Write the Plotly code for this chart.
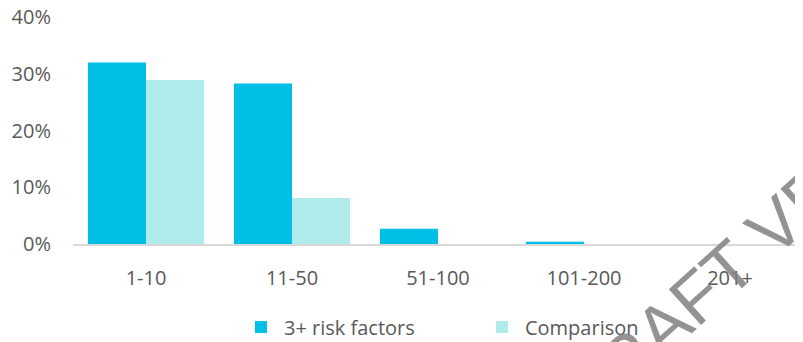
import plotly.graph_objects as go

categories = ["1-10", "11-50", "51-100", "101-200", "201+"]
risk_values = [0.32, 0.283, 0.027, 0.004, 0.0]
comparison_values = [0.289, 0.081, 0.0, 0.0, 0.0]
y_ticks = [0, 0.1, 0.2, 0.3, 0.4]
y_tick_labels = ["0%", "10%", "20%", "30%", "40%"]
series_names = ["3+ risk factors", "Comparison"]
watermark_text = "DRAFT VERSION"

BLUE = "#00BFE6"
LIGHT = "#AFEBEB"
TEXT = "#595959"
FONT = "Open Sans"

fig = go.Figure()
fig.add_trace(go.Bar(x=categories, y=risk_values, name=series_names[0],
                     marker=dict(color=BLUE, line=dict(width=0))))
fig.add_trace(go.Bar(x=categories, y=comparison_values, name=series_names[1],
                     marker=dict(color=LIGHT, line=dict(width=0))))

fig.update_layout(
    width=795, height=334,
    margin=dict(l=65, r=0, t=9, b=98, autoexpand=False),
    plot_bgcolor="white", paper_bgcolor="white",
    barmode="group", bargap=0.205, bargroupgap=0,
    font=dict(family=FONT, size=20, color=TEXT),
    showlegend=True,
    legend=dict(orientation="h", x=0.226, xanchor="left", y=-0.366, yanchor="middle",
                font=dict(family=FONT, size=20, color=TEXT),
                entrywidth=190, itemwidth=36),
    xaxis=dict(showgrid=False, showline=True, linecolor="#D9D9D9", linewidth=2,
               ticks="", ticklabelstandoff=15, zeroline=False, automargin=False),
    yaxis=dict(range=[0, 0.4], tickvals=y_ticks, ticktext=y_tick_labels,
               showgrid=False, showline=False, zeroline=False, ticks="",
               ticklabelstandoff=21, automargin=False, ticklabeloverflow="allow"),
    annotations=[dict(text=watermark_text, x=0.971, y=0.106, xref="paper", yref="paper",
                      xanchor="center", yanchor="middle", textangle=-42, showarrow=False,
                      font=dict(family="Liberation Sans", size=70,
                                color="rgba(128,128,128,0.85)"))],
)

fig.write_html("out.html")
